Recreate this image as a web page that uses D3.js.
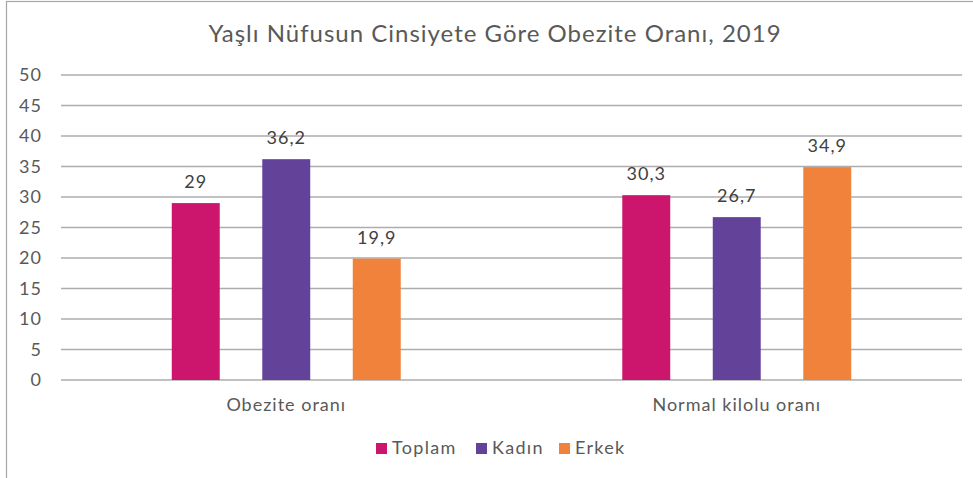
<!DOCTYPE html>
<html>
<head>
<meta charset="utf-8">
<script src="https://cdn.jsdelivr.net/npm/d3@7"></script>
<style>
  body { margin: 0; background: #fff; }
  svg { display: block; font-family: Lato, 'Open Sans', sans-serif; }
</style>
</head>
<body>
<svg id="chart" width="973" height="478"></svg>
<script>
// chart data
const categories = ['Obezite oranı', 'Normal kilolu oranı']
const seriesNames = ['Toplam', 'Kadın', 'Erkek']
const toplam = [29, 30.3]
const kadin = [36.2, 26.7]
const erkek = [19.9, 34.9]
const yTicks = [0, 5, 10, 15, 20, 25, 30, 35, 40, 45, 50]
const colors = ['#CC166E', '#63429A', '#F0823C']

const values = [toplam, kadin, erkek]

const svg = d3.select('#chart')
const W = 973, H = 478
const m = { left: 61, right: 11, top: 75, bottom: 98 }

// outer frame
svg.append('rect')
    .attr('x', 6.5).attr('y', 1.5)
    .attr('width', W + 10).attr('height', H + 10)
    .attr('fill', '#fff').attr('stroke', '#a6a6a6').attr('stroke-width', 1.2)

svg.append('text')
    .attr('x', 495).attr('y', 42)
    .attr('text-anchor', 'middle')
    .attr('font-size', 24)
    .attr('letter-spacing', 1)
    .attr('fill', '#595959')
    .text('Yaşlı Nüfusun Cinsiyete Göre Obezite Oranı, 2019')

const x0 = d3.scaleBand().domain(categories).range([m.left, W - m.right]).padding(0)
const x1 = d3.scaleBand().domain(seriesNames).range([0, x0.bandwidth()])
    .paddingInner(0.47).paddingOuter(1.224)
const y = d3.scaleLinear().domain([0, 50]).range([H - m.bottom, m.top])

// grid lines
svg.append('g').selectAll('line').data(yTicks).enter().append('line')
    .attr('x1', m.left).attr('x2', W - m.right)
    .attr('y1', d => y(d)).attr('y2', d => y(d))
    .attr('stroke', '#adadad').attr('stroke-width', 1.3)

// y axis labels
svg.append('g').selectAll('text').data(yTicks).enter().append('text')
    .attr('x', 42).attr('y', d => y(d) + 6)
    .attr('text-anchor', 'end')
    .attr('font-size', 18)
    .attr('letter-spacing', 1)
    .attr('fill', '#595959')
    .text(d => d)

// bars
const groups = svg.append('g').selectAll('g').data(categories).enter().append('g')
    .attr('transform', d => 'translate(' + x0(d) + ',0)')

groups.each(function(cat, ci) {
    const g = d3.select(this)
    seriesNames.forEach((s, si) => {
        const v = values[si][ci]
        g.append('rect')
            .attr('x', x1(s)).attr('width', x1.bandwidth())
            .attr('y', y(v)).attr('height', y(0) - y(v))
            .attr('fill', colors[si])
        g.append('text')
            .attr('x', x1(s) + x1.bandwidth() / 2)
            .attr('y', y(v) - 15)
            .attr('text-anchor', 'middle')
            .attr('font-size', 18)
            .attr('letter-spacing', 1)
            .attr('fill', '#404040')
            .text(String(v).replace('.', ','))
    })
})

// category labels
svg.append('g').selectAll('text').data(categories).enter().append('text')
    .attr('x', d => x0(d) + x0.bandwidth() / 2)
    .attr('y', 411)
    .attr('text-anchor', 'middle')
    .attr('font-size', 18)
    .attr('letter-spacing', 1)
    .attr('fill', '#595959')
    .text(d => d)

// legend
const legendX = [376, 476, 559]
const legend = svg.append('g').selectAll('g').data(seriesNames).enter().append('g')
    .attr('transform', (d, i) => 'translate(' + legendX[i] + ',443)')
legend.append('rect').attr('width', 11).attr('height', 11)
    .attr('fill', (d, i) => colors[i])
legend.append('text')
    .attr('x', 16).attr('y', 11)
    .attr('font-size', 18)
    .attr('letter-spacing', 1.3)
    .attr('fill', '#595959')
    .text(d => d)
</script>
</body>
</html>
